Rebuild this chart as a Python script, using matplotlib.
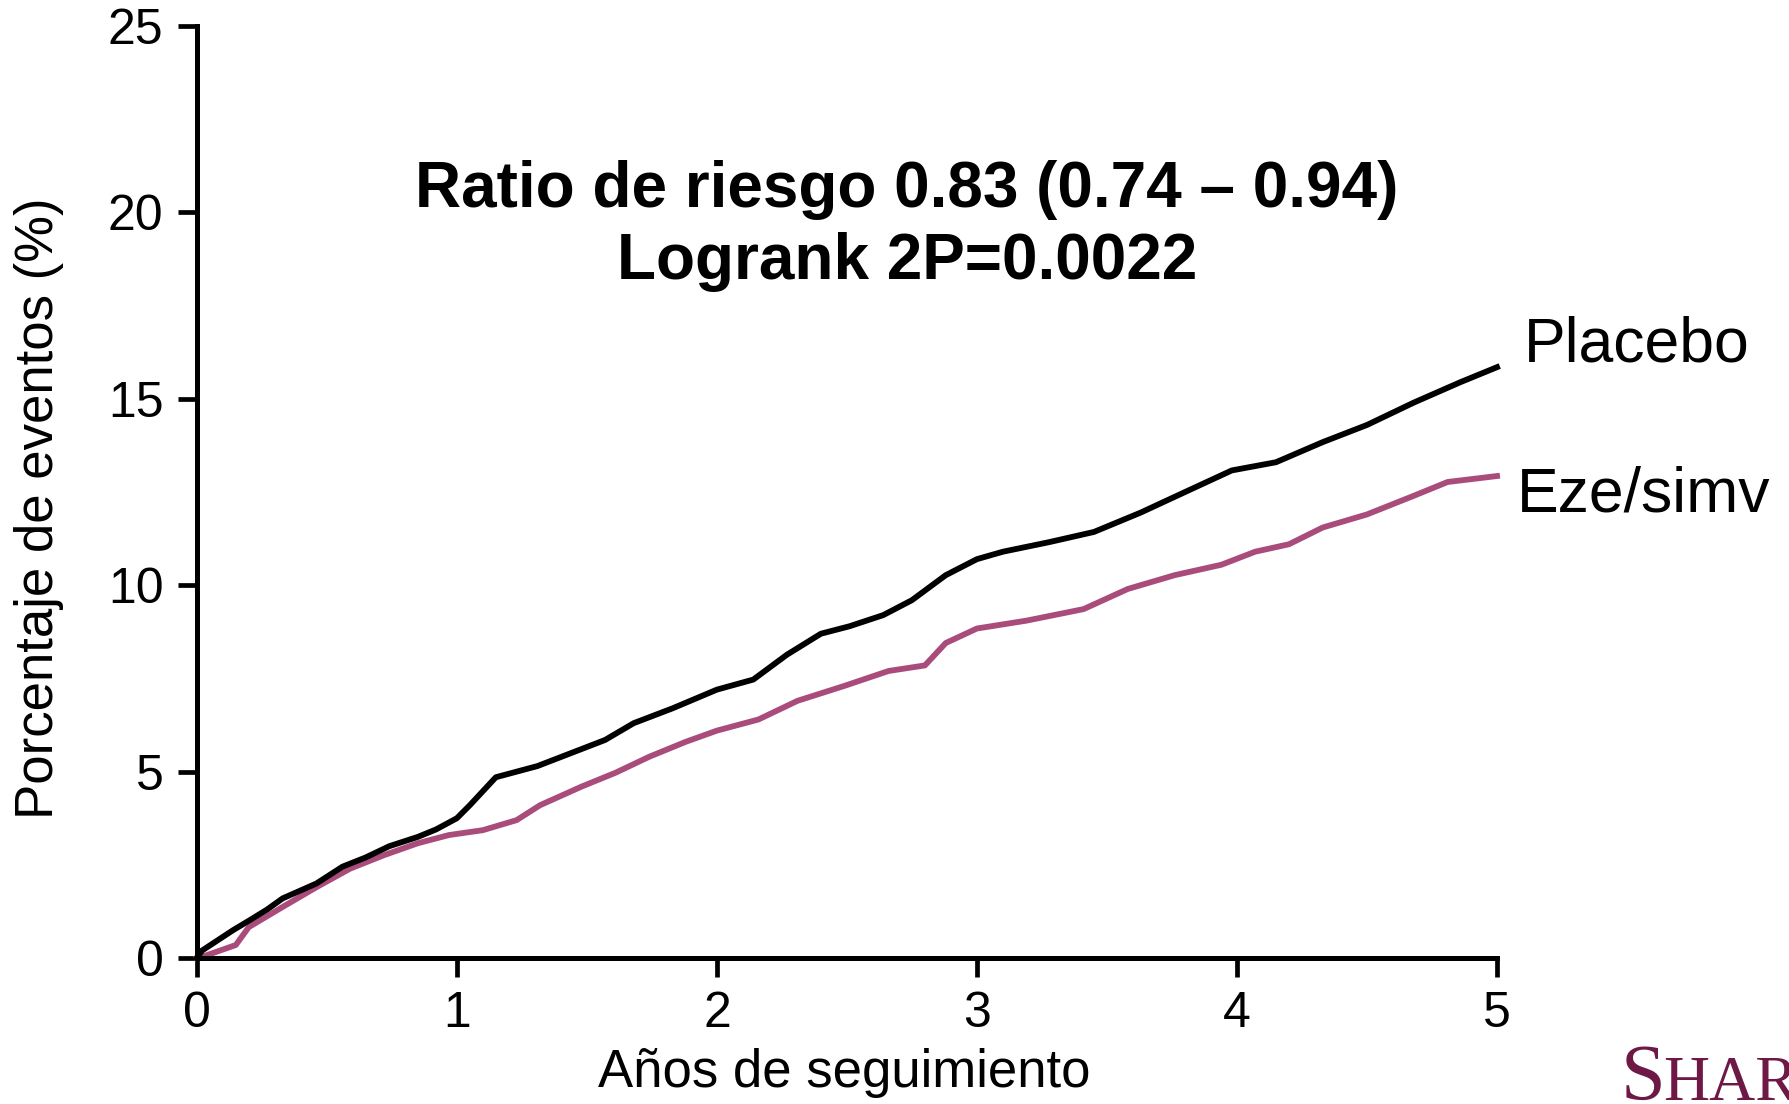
import matplotlib
matplotlib.use('Agg')
import matplotlib.pyplot as plt

plt.rcParams['font.family'] = ['Liberation Sans', 'DejaVu Sans']

# cumulative event curves (years, % with event)
placebo_years = [0, 0.02, 0.14, 0.2, 0.27, 0.33, 0.46, 0.56, 0.65, 0.74, 0.85, 0.92, 1.0,
                 1.05, 1.15, 1.31, 1.44, 1.57, 1.68, 1.83, 2.0, 2.14, 2.27, 2.4, 2.51,
                 2.64, 2.75, 2.88, 3.0, 3.1, 3.28, 3.45, 3.63, 3.8, 3.98, 4.15, 4.33,
                 4.5, 4.68, 4.86, 5.0]
placebo_pct = [0, 0.2, 0.75, 1.0, 1.3, 1.6, 2.0, 2.45, 2.7, 3.0, 3.25, 3.45, 3.75,
               4.1, 4.85, 5.15, 5.5, 5.85, 6.3, 6.7, 7.2, 7.47, 8.14, 8.7, 8.9,
               9.2, 9.6, 10.27, 10.7, 10.9, 11.16, 11.43, 11.95, 12.5, 13.08, 13.3, 13.84,
               14.3, 14.9, 15.45, 15.85]

ezesimv_years = [0, 0.04, 0.15, 0.2, 0.33, 0.46, 0.59, 0.72, 0.85, 0.97, 1.1, 1.23,
                 1.32, 1.48, 1.61, 1.74, 1.88, 2.0, 2.16, 2.31, 2.49, 2.66, 2.8, 2.88,
                 3.0, 3.19, 3.41, 3.58, 3.76, 3.94, 4.07, 4.2, 4.33, 4.5, 4.68, 4.81, 5.0]
ezesimv_pct = [0, 0.08, 0.35, 0.83, 1.37, 1.9, 2.4, 2.76, 3.08, 3.3, 3.43, 3.7,
               4.1, 4.6, 4.97, 5.4, 5.8, 6.1, 6.4, 6.9, 7.3, 7.7, 7.85, 8.45,
               8.84, 9.05, 9.36, 9.9, 10.27, 10.55, 10.9, 11.1, 11.55, 11.9, 12.4, 12.77, 12.93]

x_ticks = [0, 1, 2, 3, 4, 5]
y_ticks = [0, 5, 10, 15, 20, 25]

black = '#000000'
pink = '#a94c7c'
logo_color = '#6e1846'

fig = plt.figure(figsize=(17.89, 11.04), dpi=100, facecolor='white')
ax = fig.add_axes([0.110, 0.1322, 0.7268, 0.8442])

ax.plot(placebo_years, placebo_pct, color=black, lw=4.2, clip_on=False, zorder=3)
ax.plot(ezesimv_years, ezesimv_pct, color=pink, lw=4.2, clip_on=False, zorder=2)

ax.set_xlim(0, 5)
ax.set_ylim(0, 25)
ax.set_xticks(x_ticks)
ax.set_yticks(y_ticks)
ax.tick_params(direction='out', length=14, width=3.4, labelsize=36, pad=10)

for side in ('top', 'right'):
    ax.spines[side].set_visible(False)
for side in ('left', 'bottom'):
    ax.spines[side].set_linewidth(3.6)

ax.set_xlabel('Años de seguimiento', fontsize=38, va='center')
ax.xaxis.set_label_coords(0.498, -0.123)
ax.set_ylabel('Porcentaje de eventos (%)', fontsize=38, va='center')
ax.yaxis.set_label_coords(-0.121, 0.483)

ax.text(2.73, 20.6, 'Ratio de riesgo 0.83 (0.74 – 0.94)', fontsize=46, fontweight='bold',
        ha='center', va='center')
ax.text(2.73, 18.66, 'Logrank 2P=0.0022', fontsize=46, fontweight='bold',
        ha='center', va='center')

# curve labels at the right end
ax.text(5.105, placebo_pct[-1] + 0.6, 'Placebo', fontsize=45, ha='left', va='center', clip_on=False)
ax.text(5.075, ezesimv_pct[-1] - 0.5, 'Eze/simv', fontsize=45, ha='left', va='center', clip_on=False)

# trial logo in the corner
fig.text(0.906, 0.004, 'S', fontsize=58, family='Liberation Serif', color=logo_color,
         ha='left', va='baseline')
fig.text(0.9295, 0.004, 'HARP', fontsize=46, family='Liberation Serif', color=logo_color,
         ha='left', va='baseline')

fig.savefig('out.png', dpi=100, facecolor='white')
